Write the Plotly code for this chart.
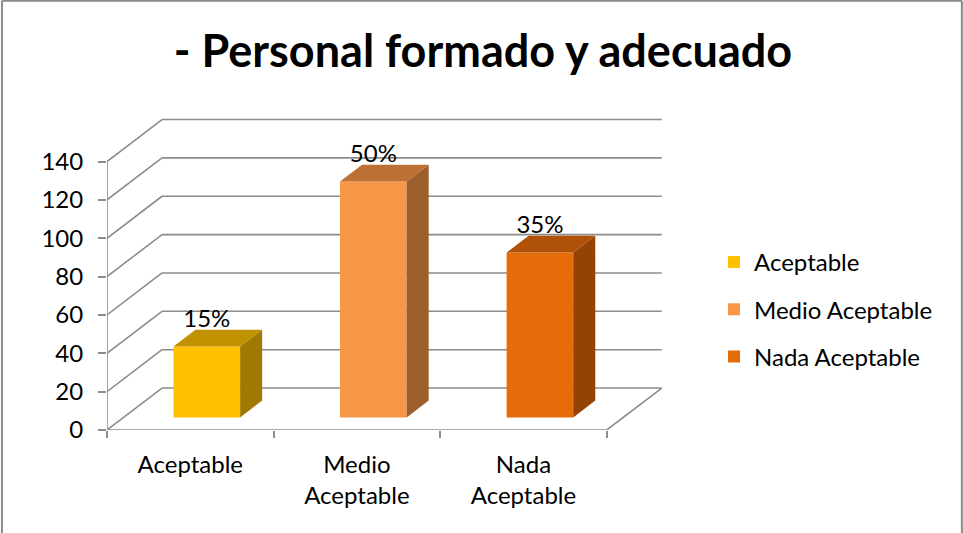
import plotly.graph_objects as go

# ---- data ----
categories = ["Aceptable", "Medio Aceptable", "Nada Aceptable"]
tick_labels = ["Aceptable", "Medio<br>Aceptable", "Nada<br>Aceptable"]
values = [37, 123, 86]
y_ticks = [0, 20, 40, 60, 80, 100, 120, 140]
title_text = "- Personal formado y adecuado"

# ---- styles ----
front_colors = ["#FFC000", "#F79646", "#E46C0A"]
top_colors = ["#C09100", "#BC7034", "#AF5208"]
side_colors = ["#A07A00", "#9C5E2B", "#944206"]
grid_color = "#8C8C8C"
FONT = "Lato"
FS = 24

W, H = 963, 533
PX_PER_CAT = 166.5
PX_PER_UNIT = 1.919
X0_PX = 107.0      # pixel of x = -0.5
Y0_PX = 430.5      # pixel of value 0
DX = 55 / PX_PER_CAT        # depth offset in category units
DY = 42 / PX_PER_UNIT       # depth offset in value units
F_FRONT, F_BACK = 0.3, 0.7
BAR_W = 0.4
X_RANGE = [-0.5, 3.0]
Y_RANGE = [0, 170]
LABEL_GAP = 9 / PX_PER_UNIT

plot_w = (X_RANGE[1] - X_RANGE[0]) * PX_PER_CAT
plot_h = (Y_RANGE[1] - Y_RANGE[0]) * PX_PER_UNIT
m_l = X0_PX
m_r = W - X0_PX - plot_w
m_b = H - Y0_PX
m_t = Y0_PX - plot_h

def px_to_paper_x(px):
    return (px - m_l) / plot_w

def px_to_paper_y(py):
    return (H - m_b - py) / plot_h

fig = go.Figure()
shapes = []
line_style = dict(color=grid_color, width=1.6)
x_left, x_right = X_RANGE[0], len(categories) - 0.5

# back wall + side wall gridlines
for v in y_ticks:
    shapes.append(dict(type="line", xref="x", yref="y", layer="below",
                       x0=x_left + DX, x1=x_right + DX, y0=v + DY, y1=v + DY, line=line_style))
    shapes.append(dict(type="line", xref="x", yref="y", layer="below",
                       x0=x_left, x1=x_left + DX, y0=v, y1=v + DY, line=line_style))
# front axis lines and floor
shapes.append(dict(type="line", xref="x", yref="y", layer="below",
                   x0=x_left, x1=x_left, y0=0, y1=y_ticks[-1], line=line_style))
shapes.append(dict(type="line", xref="x", yref="y", layer="below",
                   x0=x_left, x1=x_right, y0=0, y1=0, line=line_style))
shapes.append(dict(type="line", xref="x", yref="y", layer="below",
                   x0=x_right, x1=x_right + DX, y0=0, y1=DY, line=line_style))

# outer frame
fx0, fx1 = px_to_paper_x(2), px_to_paper_x(961.5)
fy0, fy1 = px_to_paper_y(534), px_to_paper_y(1)
frame_style = dict(color="#8A8A8A", width=2)
shapes.append(dict(type="line", xref="paper", yref="paper", x0=fx0, x1=fx1, y0=fy1, y1=fy1, line=frame_style))
shapes.append(dict(type="line", xref="paper", yref="paper", x0=fx0, x1=fx0, y0=fy0, y1=fy1, line=frame_style))
shapes.append(dict(type="line", xref="paper", yref="paper", x0=fx1, x1=fx1, y0=fy0, y1=fy1, line=frame_style))

total = sum(values)
d_x = (F_BACK - F_FRONT) * DX
d_y = (F_BACK - F_FRONT) * DY
for i, (cat, v) in enumerate(zip(categories, values)):
    xc = i + F_FRONT * DX
    base = F_FRONT * DY
    fig.add_trace(go.Bar(x=[xc], y=[v], base=base, width=BAR_W, name=cat,
                         marker=dict(color=front_colors[i], line=dict(width=0)),
                         legendgroup=cat, hoverinfo="skip"))
    xl, xr = xc - BAR_W / 2, xc + BAR_W / 2
    yt = base + v
    # side face
    fig.add_trace(go.Scatter(x=[xr, xr, xr + d_x, xr + d_x, xr],
                             y=[base, yt, yt + d_y, base + d_y, base],
                             fill="toself", fillcolor=side_colors[i], mode="lines",
                             line=dict(width=0, color=side_colors[i]),
                             showlegend=False, hoverinfo="skip"))
    # top face
    fig.add_trace(go.Scatter(x=[xl, xr, xr + d_x, xl + d_x, xl],
                             y=[yt, yt, yt + d_y, yt + d_y, yt],
                             fill="toself", fillcolor=top_colors[i], mode="lines",
                             line=dict(width=0, color=top_colors[i]),
                             showlegend=False, hoverinfo="skip"))
    # data label
    fig.add_trace(go.Scatter(x=[xc], y=[yt + d_y + LABEL_GAP], mode="text",
                             text=[f"{round(v / total * 100)}%"],
                             textposition="middle center",
                             textfont=dict(family=FONT, size=FS, color="#000000"),
                             showlegend=False, hoverinfo="skip", cliponaxis=False))

fig.update_layout(
    width=W, height=H,
    margin=dict(l=m_l, r=m_r, t=m_t, b=m_b, pad=0, autoexpand=False),
    paper_bgcolor="white", plot_bgcolor="rgba(0,0,0,0)",
    shapes=shapes,
    showlegend=True,
    barmode="overlay",
    title=dict(text=f"<b>{title_text}</b>", x=483 / W, xref="container", xanchor="center",
               y=1 - 51 / H, yref="container", yanchor="middle",
               font=dict(family=FONT, size=45, color="#000000")),
    legend=dict(xref="container", yref="container", x=714 / W, y=1 - 240 / H,
                xanchor="left", yanchor="top", tracegroupgap=13,
                font=dict(family=FONT, size=FS, color="#000000"),
                bgcolor="rgba(0,0,0,0)"),
    font=dict(family=FONT, size=FS, color="#000000"),
)
fig.update_xaxes(range=X_RANGE, tickmode="array", tickvals=list(range(len(categories))),
                 ticktext=tick_labels, ticks="", showgrid=False, zeroline=False,
                 showline=False, tickfont=dict(family=FONT, size=FS, color="#000000"),
                 ticklabelstandoff=18,
                 minor=dict(tickmode="array", tickvals=[k - 0.5 for k in range(len(categories) + 1)],
                            ticks="outside", ticklen=7, tickwidth=1.6, tickcolor=grid_color,
                            showgrid=False),
                 fixedrange=True)
fig.update_yaxes(range=Y_RANGE, tickmode="array", tickvals=y_ticks, ticks="outside",
                 ticklen=8, tickwidth=1.6, tickcolor=grid_color, showgrid=False,
                 zeroline=False, showline=False, ticklabelstandoff=10,
                 tickfont=dict(family=FONT, size=FS, color="#000000"), fixedrange=True)

fig.write_html("out.html", config={"displayModeBar": False},
               post_script="document.body.style.margin='0';document.body.style.overflow='hidden';")
